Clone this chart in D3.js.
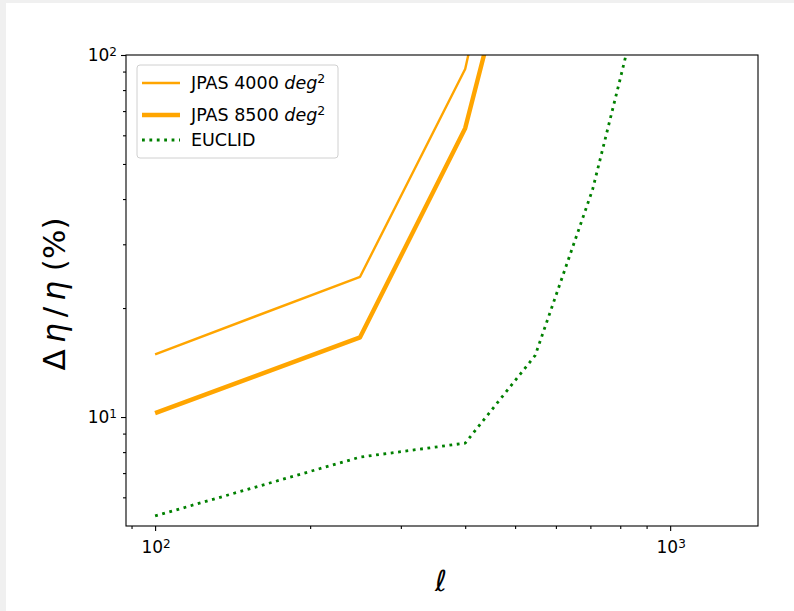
<!DOCTYPE html>
<html>
<head>
<meta charset="utf-8">
<script src="https://cdn.jsdelivr.net/npm/d3@7"></script>
<style>
  body { margin: 0; background: #f0f0f0; }
  svg { display: block; }
</style>
</head>
<body>
<div id="chart"></div>
<script>
// values (log-log axes)
var ell4000 = [100, 250, 400, 500];
var jpas4000 = [14.9, 24.4, 91.5, 380];
var ell8500 = [100, 250, 400, 500];
var jpas8500 = [10.25, 16.6, 62.8, 216];
var ellEuclid = [100, 250, 400, 547, 707, 800, 1000];
var euclid = [5.33, 7.75, 8.47, 14.8, 42.5, 86, 317];
var xMajor = [100, 1000];
var yMajor = [10, 100];
var seriesNames = ["JPAS 4000 ", "JPAS 8500 ", "EUCLID"];

var width = 794, height = 611;
var margin = {left: 126, right: 36, top: 55, bottom: 85};

var svg = d3.select("#chart").append("svg")
    .attr("width", width)
    .attr("height", height);

svg.append("rect")
    .attr("x", 6).attr("y", 3)
    .attr("width", width).attr("height", height)
    .attr("fill", "#fff");

var x = d3.scaleLog()
    .domain([87.8, 1481])
    .range([margin.left, width - margin.right]);
var y = d3.scaleLog()
    .domain([5.0, 100])
    .range([height - margin.bottom, margin.top]);

svg.append("clipPath").attr("id", "clip")
  .append("rect")
    .attr("x", x.range()[0]).attr("y", y.range()[1])
    .attr("width", x.range()[1] - x.range()[0])
    .attr("height", y.range()[0] - y.range()[1]);

var font = "'DejaVu Sans', sans-serif";

// minor ticks
var xMinor = [];
[10, 100, 1000].forEach(function(b) {
  for (var k = 2; k <= 9; k++) xMinor.push(b * k);
});
xMinor = xMinor.filter(function(v) { return v > x.domain()[0] && v < x.domain()[1] && xMajor.indexOf(v) < 0; });
var yMinor = [];
[1, 10].forEach(function(b) {
  for (var k = 2; k <= 9; k++) yMinor.push(b * k);
});
yMinor = yMinor.filter(function(v) { return v > y.domain()[0] && v < y.domain()[1]; });

var xAxisMinor = d3.axisBottom(x).tickValues(xMinor).tickSize(3).tickFormat("");
var xAxisMajor = d3.axisBottom(x).tickValues(xMajor).tickSize(5).tickFormat("");
var yAxisMinor = d3.axisLeft(y).tickValues(yMinor).tickSize(3).tickFormat("");
var yAxisMajor = d3.axisLeft(y).tickValues(yMajor).tickSize(5).tickFormat("");

[xAxisMinor, xAxisMajor].forEach(function(ax) {
  svg.append("g")
      .attr("transform", "translate(0," + y.range()[0] + ")")
      .call(ax)
      .call(function(g) { g.select(".domain").remove(); })
      .selectAll("line").attr("stroke", "#000").attr("stroke-width", 1.1);
});
[yAxisMinor, yAxisMajor].forEach(function(ax) {
  svg.append("g")
      .attr("transform", "translate(" + x.range()[0] + ",0)")
      .call(ax)
      .call(function(g) { g.select(".domain").remove(); })
      .selectAll("line").attr("stroke", "#000").attr("stroke-width", 1.1);
});

// tick labels 10^n
function powLabel(sel, v) {
  var e = Math.round(Math.log10(v));
  sel.append("tspan").text("10");
  sel.append("tspan").attr("dy", "-0.45em").attr("font-size", "12px").text(e);
}
xMajor.forEach(function(v) {
  var t = svg.append("text")
      .attr("x", x(v) + 1).attr("y", y.range()[0] + 27)
      .attr("text-anchor", "middle")
      .attr("font-family", font).attr("font-size", "17px")
      .attr("fill", "#000");
  powLabel(t, v);
});
yMajor.forEach(function(v) {
  var t = svg.append("text")
      .attr("x", x.range()[0] - 9).attr("y", y(v) + 6)
      .attr("text-anchor", "end")
      .attr("font-family", font).attr("font-size", "17px")
      .attr("fill", "#000");
  powLabel(t, v);
});

// lines
var line = d3.line()
    .x(function(d) { return x(d[0]); })
    .y(function(d) { return y(d[1]); });

var series = [
  {name: seriesNames[0], pts: d3.zip(ell4000, jpas4000), color: "#ffa500", w: 2.4, dash: null},
  {name: seriesNames[1], pts: d3.zip(ell8500, jpas8500), color: "#ffa500", w: 4.4, dash: null},
  {name: seriesNames[2], pts: d3.zip(ellEuclid, euclid), color: "#008000", w: 2.8, dash: "2.8,4.6"}
];

svg.append("g").attr("clip-path", "url(#clip)")
  .selectAll("path")
  .data(series)
  .join("path")
    .attr("d", function(d) { return line(d.pts); })
    .attr("fill", "none")
    .attr("stroke", function(d) { return d.color; })
    .attr("stroke-width", function(d) { return d.w; })
    .attr("stroke-dasharray", function(d) { return d.dash; })
    .attr("stroke-linejoin", "round");

// frame
svg.append("rect")
    .attr("x", x.range()[0]).attr("y", y.range()[1])
    .attr("width", x.range()[1] - x.range()[0])
    .attr("height", y.range()[0] - y.range()[1])
    .attr("fill", "none")
    .attr("stroke", "#000")
    .attr("stroke-width", 1.1);

// legend
var lg = svg.append("g").attr("transform", "translate(137,65)");
lg.append("rect")
    .attr("width", 201).attr("height", 93).attr("rx", 3)
    .attr("fill", "#fff").attr("fill-opacity", 0.8)
    .attr("stroke", "#d0d0d0");
series.forEach(function(s, i) {
  var yy = [18, 50, 75][i];
  lg.append("line")
      .attr("x1", 5).attr("x2", 43)
      .attr("y1", yy).attr("y2", yy)
      .attr("stroke", s.color)
      .attr("stroke-width", s.w)
      .attr("stroke-dasharray", s.dash);
  var t = lg.append("text")
      .attr("x", 54).attr("y", yy + 6)
      .attr("font-family", font).attr("font-size", "17.5px")
      .attr("fill", "#000");
  t.append("tspan").text(s.name);
  if (i < 2) {
    t.append("tspan").attr("font-style", "italic").text("deg");
    t.append("tspan").attr("dy", "-0.5em").attr("font-size", "12.5px").text("2");
  }
});

// axis labels
svg.append("text")
    .attr("x", (x.range()[0] + x.range()[1]) / 2 - 1)
    .attr("y", 591)
    .attr("text-anchor", "middle")
    .attr("font-family", font).attr("font-size", "29px")
    .attr("font-style", "italic")
    .text("\u2113");

var yl = svg.append("text")
    .attr("transform", "translate(65,294) rotate(-90)")
    .attr("text-anchor", "middle")
    .attr("font-family", font).attr("font-size", "31px");
yl.append("tspan").text("\u0394\u2009");
yl.append("tspan").attr("font-style", "italic").text("\u03b7");
yl.append("tspan").text("\u2009/\u2009");
yl.append("tspan").attr("font-style", "italic").text("\u03b7");
yl.append("tspan").text(" (%)");
</script>
</body>
</html>
